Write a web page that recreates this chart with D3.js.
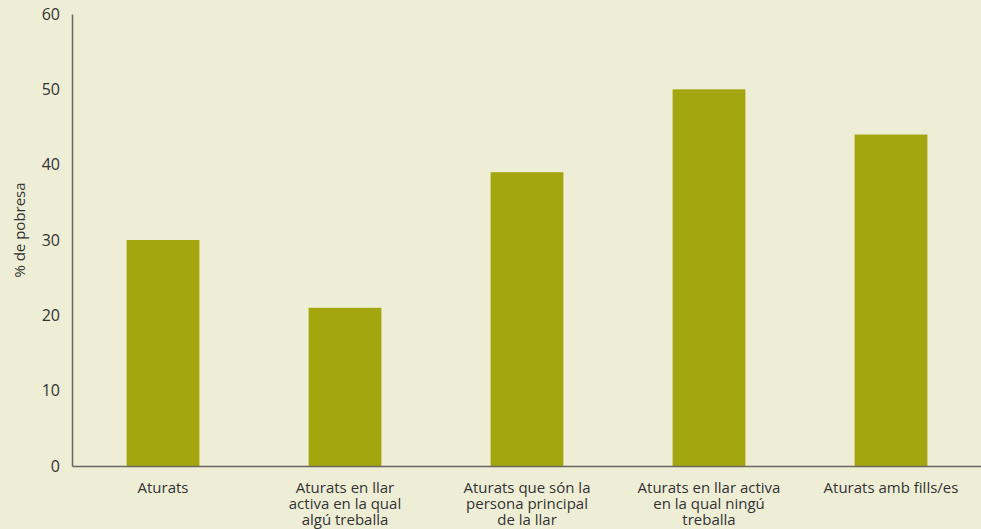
<html lang="ca">
  <head>
    <meta charset="utf-8">
    <title>% de pobresa</title>
    <script src="https://d3js.org/d3.v7.min.js"></script>
    <style>
      body { margin: 0; background: #eeedd6; }
      text { font-family: "Open Sans", "DejaVu Sans", sans-serif; fill: #333; }
    </style>
  </head>
  <body>
    <script type="text/javascript">
      var w = 981;
      var h = 529;
      var margin = {top: 14, right: 0, bottom: 63, left: 72};

      var categories = [
        ["Aturats"],
        ["Aturats en llar", "activa en la qual", "algú treballa"],
        ["Aturats que són la", "persona principal", "de la llar"],
        ["Aturats en llar activa", "en la qual ningú", "treballa"],
        ["Aturats amb fills/es"]
      ];
      var values = [30, 21, 39, 50, 44];
      var yTicks = [0, 10, 20, 30, 40, 50, 60];

      var dataset = categories.map(function(c, i) {
        return {key: i, lines: c, value: values[i]};
      });

      var xScale = d3.scaleBand()
          .domain(dataset.map(function(d) { return d.key; }))
          .range([margin.left, w + 1])
          .paddingInner(0.6)
          .paddingOuter(0.3);
      var yScale = d3.scaleLinear()
          .domain([0, 60])
          .range([h - margin.bottom, margin.top]);

      var svg = d3.select("body")
          .append("svg")
          .attr("width", w)
          .attr("height", h);

      svg.append("rect")
          .attr("width", w)
          .attr("height", h)
          .attr("fill", "#eeedd6");

      svg.selectAll("rect.bar")
          .data(dataset)
          .enter()
          .append("rect")
          .attr("class", "bar")
          .attr("x", d => xScale(d.key))
          .attr("y", d => yScale(d.value))
          .attr("width", xScale.bandwidth())
          .attr("height", d => yScale(0) - yScale(d.value))
          .attr("fill", "#a3a60f");

      // y axis
      var yAxis = d3.axisLeft(yScale)
          .tickValues(yTicks)
          .tickSize(0)
          .tickPadding(12);
      var gy = svg.append("g")
          .attr("transform", "translate(" + margin.left + ",0)")
          .call(yAxis);
      gy.select(".domain").attr("stroke", "#6b6760").attr("stroke-width", 1.5);
      gy.selectAll("text")
          .style("font-size", "16px")
          .attr("fill", "#333");

      // x axis line
      var xAxis = d3.axisBottom(xScale)
          .tickSize(0)
          .tickFormat("");
      var gx = svg.append("g")
          .attr("transform", "translate(0," + yScale(0) + ")")
          .call(xAxis);
      gx.select(".domain").attr("stroke", "#6b6760").attr("stroke-width", 1.5);

      // category labels, one text per line
      dataset.forEach(function(d) {
        var cx = xScale(d.key) + xScale.bandwidth() / 2;
        svg.selectAll(null)
            .data(d.lines)
            .enter()
            .append("text")
            .attr("class", "cat")
            .attr("text-anchor", "middle")
            .style("font-size", "15px")
            .attr("x", cx)
            .attr("y", (t, i) => yScale(0) + 27 + i * 16)
            .text(t => t);
      });

      svg.append("text")
          .attr("transform", "translate(25," + (margin.top + (h - margin.bottom - margin.top) / 2 - 10) + ") rotate(-90)")
          .attr("text-anchor", "middle")
          .style("font-size", "15px")
          .text("% de pobresa");
    </script>
  </body>
</html>
